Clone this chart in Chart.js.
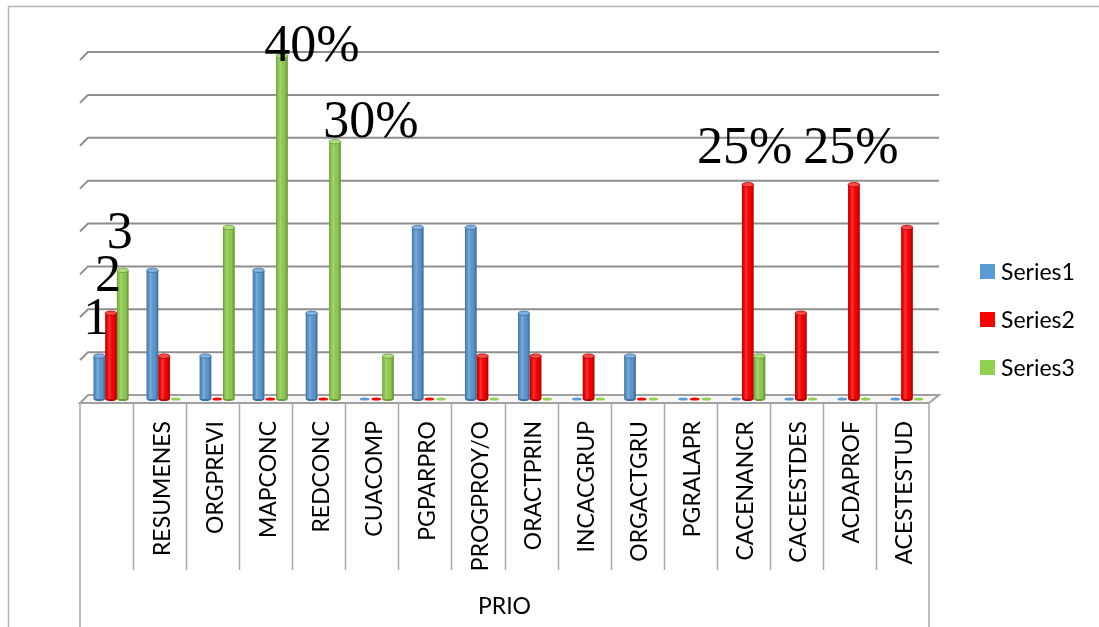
<!DOCTYPE html>
<html>
<head>
<meta charset="utf-8">
<script src="https://cdn.jsdelivr.net/npm/chart.js@4.4.1/dist/chart.umd.min.js"></script>
<style>
  html, body { margin: 0; padding: 0; background: #ffffff; }
  canvas { display: block; }
</style>
</head>
<body>
<canvas id="chart" width="1099" height="627"></canvas>
<script>
// Categories (first one intentionally blank) and the three series, in percent
const categories = ['', 'RESUMENES', 'ORGPREVI', 'MAPCONC', 'REDCONC', 'CUACOMP', 'PGPARPRO',
  'PROGPROY/O', 'ORACTPRIN', 'INCACGRUP', 'ORGACTGRU', 'PGRALAPR', 'CACENANCR',
  'CACEESTDES', 'ACDAPROF', 'ACESTESTUD'];
const series1 = [5, 15, 5, 15, 10, 0, 20, 20, 10, 0, 5, 0, 0, 0, 0, 0];
const series2 = [10, 5, 0, 0, 0, 0, 0, 5, 5, 5, 0, 0, 25, 10, 25, 20];
const series3 = [15, 0, 20, 40, 30, 5, 0, 0, 0, 0, 0, 0, 5, 0, 0, 0];
const seriesNames = ['Series1', 'Series2', 'Series3'];
const axisTitle = 'PRIO';
const yMax = 40;
const yStep = 5;

// Bars that carry a percentage label: [series index, category index]
const percentLabelBars = [[2, 3], [2, 4], [1, 12], [1, 14]];
// Category whose bars are tagged with their series number
const seriesTagCategory = 0;

// ---- styling ----
const seriesColors = ['#5b9bd5', '#ff0000', '#92d050'];
const seriesCaps = ['#7fb2e0', '#ff4a4a', '#aee07a'];
const seriesEdges = ['#3d6f9f', '#b30000', '#6a9d36'];
const DEPTH_X = 4.5, DEPTH_Y = 4;     // half depth of the pseudo-3D box
const gridColor = '#8e8e8e';
const tableColor = '#a8a8a8';
const sansFont = 'Lato, "Open Sans", sans-serif';
const serifFont = '"Liberation Serif", "Times New Roman", serif';

// Nudges for individual value labels (key: "series:index")
const labelNudge = { '2:3': [30, 5], '2:4': [36, -5] };
const defaultNudge = [-3, -22];

const depthPlugin = {
  id: 'depthFrame',
  beforeDraw(chart) {
    const { ctx, width, height } = chart;
    ctx.save();
    ctx.fillStyle = '#ffffff';
    ctx.fillRect(0, 0, width, height);
    ctx.strokeStyle = '#b4b4b4';
    ctx.lineWidth = 1.5;
    ctx.strokeRect(8.5, 6.5, width + 20, height + 20);
    ctx.restore();
  },
  beforeDatasetsDraw(chart) {
    const { ctx, chartArea: a, scales: { y } } = chart;
    const base = y.getPixelForValue(0);
    ctx.save();
    // floor
    ctx.beginPath();
    ctx.moveTo(a.left - DEPTH_X, base + DEPTH_Y);
    ctx.lineTo(a.right - DEPTH_X, base + DEPTH_Y);
    ctx.lineTo(a.right + DEPTH_X + 1, base - DEPTH_Y);
    ctx.lineTo(a.left + DEPTH_X - 1, base - DEPTH_Y);
    ctx.closePath();
    ctx.fillStyle = '#f7f7f7';
    ctx.fill();
    ctx.strokeStyle = '#a0a0a0';
    ctx.lineWidth = 2;
    ctx.stroke();
    // back wall gridlines with their side-wall stubs
    ctx.strokeStyle = gridColor;
    ctx.lineWidth = 2;
    y.ticks.forEach(t => {
      if (t.value <= 0) return;
      const py = y.getPixelForValue(t.value);
      ctx.beginPath();
      ctx.moveTo(a.left - DEPTH_X, py + DEPTH_Y);
      ctx.lineTo(a.left + DEPTH_X - 1, py - DEPTH_Y);
      ctx.lineTo(a.right + DEPTH_X + 1, py - DEPTH_Y);
      ctx.stroke();
    });
    ctx.restore();
  },
  afterDatasetsDraw(chart) {
    const { ctx } = chart;
    ctx.save();
    chart.data.datasets.forEach((ds, d) => {
      const meta = chart.getDatasetMeta(d);
      meta.data.forEach((bar, i) => {
        const { x, y, base, width } = bar.getProps(['x', 'y', 'base', 'width'], true);
        const l = x - width / 2;
        const h = base - y;
        if (h > 0.5) {
          // round the bottom edge
          ctx.beginPath();
          ctx.ellipse(x, base, width / 2, 2, 0, 0, Math.PI);
          ctx.fillStyle = seriesEdges[d];
          ctx.fill();
          // cylinder shading
          const g = ctx.createLinearGradient(l, 0, l + width, 0);
          g.addColorStop(0, 'rgba(0,0,0,0.30)');
          g.addColorStop(0.12, 'rgba(0,0,0,0.08)');
          g.addColorStop(0.35, 'rgba(255,255,255,0.22)');
          g.addColorStop(0.7, 'rgba(0,0,0,0.02)');
          g.addColorStop(1, 'rgba(0,0,0,0.32)');
          ctx.fillStyle = g;
          ctx.fillRect(l, y, width, h);
          // top cap
          ctx.beginPath();
          ctx.ellipse(x, y, width / 2, 2.2, 0, 0, Math.PI * 2);
          ctx.fillStyle = seriesCaps[d];
          ctx.fill();
          ctx.strokeStyle = seriesEdges[d];
          ctx.lineWidth = 0.8;
          ctx.stroke();
        } else {
          // empty bar: flat disc lying on the floor
          ctx.beginPath();
          ctx.ellipse(x, base, width / 2 - 1, 1.6, 0, 0, Math.PI * 2);
          ctx.fillStyle = seriesColors[d];
          ctx.fill();
        }
      });
    });

    // value labels
    ctx.fillStyle = '#000000';
    ctx.textAlign = 'center';
    ctx.textBaseline = 'alphabetic';
    ctx.font = '52px ' + serifFont;
    const place = (d, i, text) => {
      const bar = chart.getDatasetMeta(d).data[i];
      const { x, y } = bar.getProps(['x', 'y'], true);
      const n = labelNudge[d + ':' + i] || defaultNudge;
      ctx.fillText(text, x + n[0], y + n[1]);
    };
    chart.data.datasets.forEach((ds, d) => place(d, seriesTagCategory, String(d + 1)));
    percentLabelBars.forEach(([d, i]) => place(d, i, chart.data.datasets[d].data[i] + '%'));
    ctx.restore();
  },
  afterDraw(chart) {
    const { ctx, chartArea: a, scales: { x, y } } = chart;
    const base = y.getPixelForValue(0) + DEPTH_Y;
    const left = a.left - DEPTH_X, right = a.right - DEPTH_X;
    const cellW = (right - left) / categories.length;
    ctx.save();
    // category table
    ctx.strokeStyle = tableColor;
    ctx.lineWidth = 1.5;
    ctx.beginPath();
    ctx.moveTo(left, base); ctx.lineTo(left, 640);
    ctx.moveTo(right, base); ctx.lineTo(right, 640);
    for (let i = 1; i < categories.length; i++) {
      const px = Math.round(left + i * cellW) + 0.5;
      ctx.moveTo(px, base); ctx.lineTo(px, 570);
    }
    ctx.stroke();
    // rotated category names
    ctx.fillStyle = '#000000';
    ctx.font = '23px ' + sansFont;
    ctx.textAlign = 'right';
    ctx.textBaseline = 'alphabetic';
    categories.forEach((c, i) => {
      if (!c) return;
      const cx = x.getPixelForValue(i) - DEPTH_X;
      ctx.save();
      ctx.translate(cx + 10, 421);
      ctx.rotate(-Math.PI / 2);
      ctx.fillText(c, 0, 0);
      ctx.restore();
    });
    // axis title
    ctx.textAlign = 'center';
    ctx.font = '23px ' + sansFont;
    ctx.fillText(axisTitle, (left + right) / 2, 614);
    // legend
    ctx.textAlign = 'left';
    ctx.font = '23px ' + sansFont;
    seriesNames.forEach((name, d) => {
      const top = 264 + d * 48;
      ctx.fillStyle = seriesColors[d];
      ctx.fillRect(980, top, 15, 15);
      ctx.fillStyle = '#000000';
      ctx.fillText(name, 1001, top + 16);
    });
    ctx.restore();
  }
};

new Chart(document.getElementById('chart'), {
  type: 'bar',
  data: {
    labels: categories,
    datasets: [series1, series2, series3].map((data, d) => ({
      label: seriesNames[d],
      data,
      backgroundColor: seriesColors[d],
      borderWidth: 0,
      barPercentage: 1.0,
      categoryPercentage: 0.66
    }))
  },
  options: {
    responsive: false,
    animation: false,
    devicePixelRatio: 1,
    layout: { padding: { left: 84.5, right: 165.5, top: 56, bottom: 228 } },
    plugins: { legend: { display: false }, tooltip: { enabled: false } },
    scales: {
      x: { display: false },
      y: { display: false, min: 0, max: yMax, ticks: { stepSize: yStep } }
    }
  },
  plugins: [depthPlugin]
});
</script>
</body>
</html>
